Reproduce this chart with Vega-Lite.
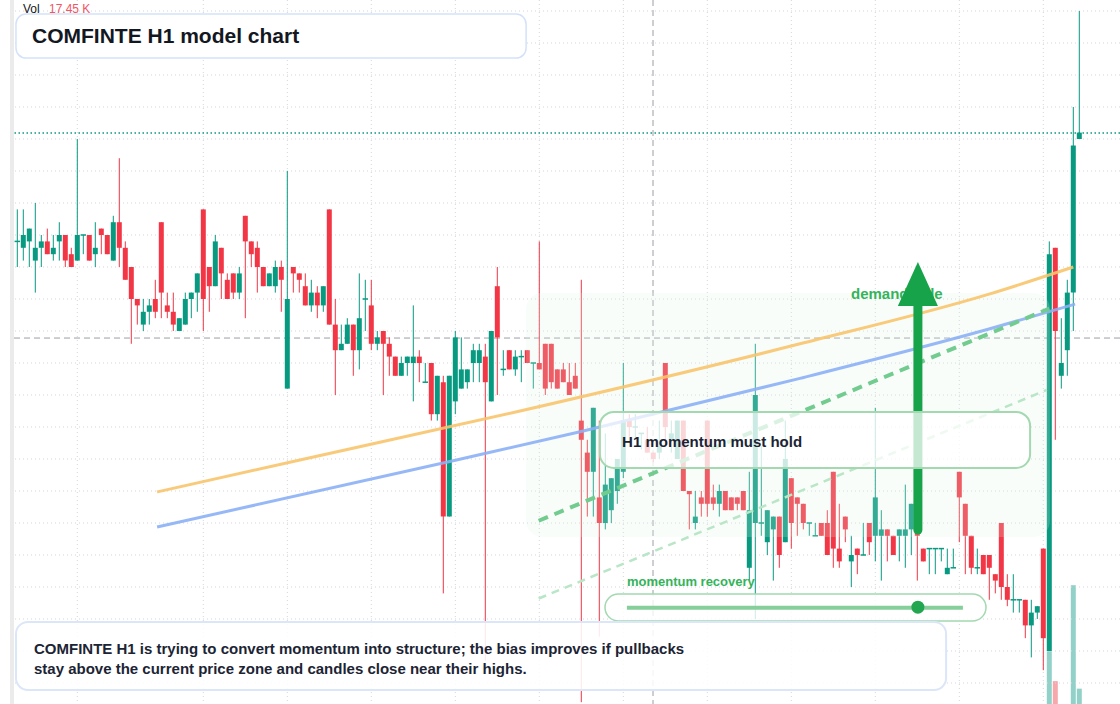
{
"$schema":"https://vega.github.io/schema/vega-lite/v6.json",
"width":1120,"height":704,"autosize":"none","padding":0,"background":"#ffffff",
"config":{"view":{"stroke":null},"font":"Liberation Sans","scale":{"continuousPadding":0}},
"datasets":{
"candles":[
{"i":0,"o":14.8,"h":15.8,"l":14.0,"c":14.8},{"i":1,"o":14.6,"h":15.8,"l":14.2,"c":15.0},{"i":2,"o":14.8,"h":15.2,"l":14.0,"c":15.2},{"i":3,"o":14.2,"h":16.0,"l":13.2,"c":14.6},{"i":4,"o":14.6,"h":15.0,"l":14.0,"c":14.8},{"i":5,"o":14.8,"h":15.2,"l":14.4,"c":14.4},{"i":6,"o":14.4,"h":15.0,"l":14.2,"c":14.6},{"i":7,"o":14.8,"h":15.4,"l":14.2,"c":15.0},{"i":8,"o":15.0,"h":15.0,"l":14.0,"c":14.2},{"i":9,"o":14.4,"h":14.6,"l":14.0,"c":14.0},
{"i":10,"o":14.2,"h":18.0,"l":14.2,"c":15.0},{"i":11,"o":15.0,"h":15.0,"l":14.4,"c":15.0},{"i":12,"o":15.0,"h":15.0,"l":14.2,"c":14.2},{"i":13,"o":14.4,"h":15.4,"l":14.0,"c":14.6},{"i":14,"o":15.2,"h":15.2,"l":14.4,"c":15.0},{"i":15,"o":15.0,"h":15.0,"l":14.4,"c":14.4},{"i":16,"o":14.2,"h":15.6,"l":14.2,"c":15.4},{"i":17,"o":15.4,"h":17.4,"l":14.0,"c":14.6},{"i":18,"o":14.6,"h":14.8,"l":13.6,"c":13.6},{"i":19,"o":14.0,"h":14.0,"l":11.6,"c":13.0},
{"i":20,"o":13.0,"h":13.0,"l":12.2,"c":12.8},{"i":21,"o":12.2,"h":13.0,"l":12.0,"c":12.6},{"i":22,"o":12.6,"h":13.0,"l":12.2,"c":12.8},{"i":23,"o":13.0,"h":13.6,"l":12.4,"c":12.6},{"i":24,"o":15.4,"h":15.4,"l":12.4,"c":13.2},{"i":25,"o":12.8,"h":13.2,"l":12.4,"c":12.6},{"i":26,"o":12.6,"h":13.2,"l":12.0,"c":12.2},{"i":27,"o":12.0,"h":12.4,"l":12.0,"c":12.4},{"i":28,"o":12.2,"h":13.2,"l":12.2,"c":13.0},{"i":29,"o":13.0,"h":13.2,"l":12.4,"c":13.2},
{"i":30,"o":13.2,"h":13.8,"l":12.6,"c":13.8},{"i":31,"o":15.8,"h":15.8,"l":12.0,"c":13.0},{"i":32,"o":14.0,"h":14.0,"l":12.6,"c":13.4},{"i":33,"o":13.4,"h":15.0,"l":13.4,"c":14.8},{"i":34,"o":14.6,"h":14.6,"l":13.0,"c":13.8},{"i":35,"o":13.6,"h":13.8,"l":13.0,"c":13.0},{"i":36,"o":13.8,"h":13.8,"l":13.0,"c":13.2},{"i":37,"o":13.2,"h":14.0,"l":13.0,"c":13.8},{"i":38,"o":15.6,"h":15.6,"l":12.4,"c":14.8},{"i":39,"o":14.8,"h":14.8,"l":14.0,"c":14.4},
{"i":40,"o":14.6,"h":14.8,"l":13.2,"c":14.0},{"i":41,"o":14.0,"h":14.0,"l":13.4,"c":13.4},{"i":42,"o":13.4,"h":13.8,"l":13.4,"c":13.8},{"i":43,"o":13.4,"h":14.2,"l":13.2,"c":14.0},{"i":44,"o":14.0,"h":14.2,"l":12.6,"c":13.6},{"i":45,"o":10.2,"h":17.0,"l":10.2,"c":13.0},{"i":46,"o":14.0,"h":14.0,"l":13.2,"c":13.8},{"i":47,"o":13.8,"h":13.8,"l":13.2,"c":13.6},{"i":48,"o":13.4,"h":13.8,"l":12.8,"c":12.8},{"i":49,"o":12.8,"h":13.6,"l":12.6,"c":13.2},
{"i":50,"o":13.2,"h":13.4,"l":12.4,"c":12.8},{"i":51,"o":12.8,"h":13.4,"l":12.6,"c":13.4},{"i":52,"o":15.8,"h":15.8,"l":12.2,"c":12.2},{"i":53,"o":12.2,"h":13.0,"l":10.0,"c":11.4},{"i":54,"o":11.4,"h":12.2,"l":11.4,"c":11.6},{"i":55,"o":11.6,"h":12.4,"l":11.6,"c":12.2},{"i":56,"o":12.2,"h":12.2,"l":10.6,"c":11.4},{"i":57,"o":11.4,"h":13.8,"l":10.8,"c":12.4},{"i":58,"o":13.0,"h":13.6,"l":12.0,"c":13.0},{"i":59,"o":12.8,"h":13.6,"l":11.4,"c":11.6},
{"i":60,"o":11.6,"h":12.0,"l":11.4,"c":11.8},{"i":61,"o":12.0,"h":12.0,"l":10.0,"c":11.6},{"i":62,"o":11.6,"h":11.8,"l":10.6,"c":11.2},{"i":63,"o":11.2,"h":11.2,"l":10.6,"c":10.6},{"i":64,"o":10.6,"h":11.2,"l":10.6,"c":11.0},{"i":65,"o":11.0,"h":11.2,"l":10.6,"c":11.2},{"i":66,"o":11.0,"h":12.8,"l":9.8,"c":11.2},{"i":67,"o":11.2,"h":11.4,"l":10.4,"c":11.0},{"i":68,"o":10.4,"h":11.0,"l":10.4,"c":10.4},{"i":69,"o":11.0,"h":11.0,"l":9.2,"c":9.4},
{"i":70,"o":9.4,"h":10.6,"l":9.2,"c":10.6},{"i":71,"o":10.4,"h":10.6,"l":3.8,"c":6.2},{"i":72,"o":6.2,"h":10.6,"l":6.2,"c":10.6},{"i":73,"o":9.8,"h":12.0,"l":9.4,"c":11.8},{"i":74,"o":10.2,"h":11.8,"l":10.2,"c":10.8},{"i":75,"o":10.4,"h":10.8,"l":10.2,"c":10.8},{"i":76,"o":11.0,"h":11.6,"l":10.4,"c":11.4},{"i":77,"o":11.0,"h":11.6,"l":10.4,"c":11.4},{"i":78,"o":11.2,"h":11.6,"l":1.7,"c":10.4},{"i":79,"o":9.8,"h":12.0,"l":9.8,"c":12.0},
{"i":80,"o":13.4,"h":14.0,"l":10.0,"c":11.8},{"i":81,"o":10.8,"h":11.4,"l":10.6,"c":10.8},{"i":82,"o":11.4,"h":11.4,"l":10.8,"c":10.8},{"i":83,"o":10.8,"h":11.4,"l":10.6,"c":11.2},{"i":84,"o":11.2,"h":11.4,"l":10.4,"c":11.2},{"i":85,"o":11.4,"h":11.4,"l":11.0,"c":11.0},{"i":86,"o":11.0,"h":11.0,"l":10.2,"c":11.0},{"i":87,"o":11.0,"h":14.8,"l":10.8,"c":10.8},{"i":88,"o":11.6,"h":11.6,"l":10.0,"c":10.2},{"i":89,"o":11.6,"h":11.6,"l":10.2,"c":10.4},
{"i":90,"o":10.8,"h":10.8,"l":10.2,"c":10.2},{"i":91,"o":10.8,"h":11.0,"l":10.4,"c":10.4},{"i":92,"o":10.4,"h":11.0,"l":10.0,"c":10.0},{"i":93,"o":10.6,"h":11.0,"l":10.2,"c":10.2},{"i":94,"o":9.2,"h":13.6,"l":0.4,"c":8.6},{"i":95,"o":8.2,"h":8.6,"l":6.2,"c":7.6},{"i":96,"o":7.6,"h":9.6,"l":6.2,"c":9.6},{"i":97,"o":6.8,"h":9.2,"l":2.45,"c":6.0},{"i":98,"o":6.0,"h":8.8,"l":5.8,"c":7.2},{"i":99,"o":6.4,"h":7.4,"l":6.0,"c":7.4},
{"i":100,"o":7.0,"h":8.0,"l":6.6,"c":8.0},{"i":101,"o":7.6,"h":11.0,"l":7.4,"c":9.2},{"i":102,"o":9.2,"h":9.4,"l":8.7,"c":9.0},{"i":103,"o":9.0,"h":9.4,"l":8.6,"c":9.0},{"i":104,"o":8.8,"h":8.8,"l":8.3,"c":8.8},{"i":105,"o":8.6,"h":9.0,"l":8.2,"c":8.2},{"i":106,"o":8.2,"h":8.2,"l":7.9,"c":8.0},{"i":107,"o":8.2,"h":9.2,"l":8.0,"c":8.4},{"i":108,"o":11.0,"h":11.0,"l":8.6,"c":9.0},{"i":109,"o":8.6,"h":9.2,"l":8.2,"c":8.8},
{"i":110,"o":8.0,"h":9.2,"l":8.0,"c":9.2},{"i":111,"o":9.2,"h":9.2,"l":7.0,"c":7.0},{"i":112,"o":7.0,"h":7.0,"l":5.8,"c":6.9},{"i":113,"o":6.0,"h":7.0,"l":5.8,"c":6.2},{"i":114,"o":6.8,"h":7.0,"l":6.2,"c":6.6},{"i":115,"o":9.2,"h":9.2,"l":6.2,"c":6.6},{"i":116,"o":6.8,"h":7.2,"l":6.4,"c":6.6},{"i":117,"o":6.6,"h":7.2,"l":6.2,"c":7.0},{"i":118,"o":7.0,"h":7.0,"l":6.4,"c":6.4},{"i":119,"o":6.8,"h":6.8,"l":6.4,"c":6.4},
{"i":120,"o":6.8,"h":6.8,"l":6.4,"c":6.6},{"i":121,"o":7.0,"h":7.0,"l":6.4,"c":6.4},{"i":122,"o":4.6,"h":7.6,"l":4.2,"c":6.4},{"i":123,"o":6.0,"h":11.6,"l":3.0,"c":10.0},{"i":124,"o":6.0,"h":8.4,"l":5.6,"c":6.0},{"i":125,"o":5.4,"h":6.4,"l":5.0,"c":6.4},{"i":126,"o":5.8,"h":6.2,"l":4.2,"c":6.2},{"i":127,"o":6.2,"h":6.2,"l":4.6,"c":5.0},{"i":128,"o":5.4,"h":9.2,"l":5.4,"c":8.0},{"i":129,"o":7.4,"h":7.4,"l":5.2,"c":6.0},
{"i":130,"o":6.8,"h":6.8,"l":5.6,"c":6.6},{"i":131,"o":6.6,"h":6.6,"l":5.8,"c":6.0},{"i":132,"o":6.0,"h":6.0,"l":5.6,"c":6.0},{"i":133,"o":5.6,"h":6.0,"l":5.6,"c":5.6},{"i":134,"o":6.0,"h":6.0,"l":5.6,"c":5.6},{"i":135,"o":6.0,"h":6.4,"l":5.0,"c":5.0},{"i":136,"o":7.6,"h":7.6,"l":4.6,"c":5.2},{"i":137,"o":5.2,"h":6.6,"l":4.6,"c":4.8},{"i":138,"o":6.2,"h":6.2,"l":5.4,"c":5.8},{"i":139,"o":4.8,"h":5.6,"l":4.0,"c":5.0},
{"i":140,"o":5.2,"h":5.2,"l":4.4,"c":5.0},{"i":141,"o":5.0,"h":6.0,"l":5.0,"c":5.0},{"i":142,"o":6.0,"h":6.0,"l":5.0,"c":5.4},{"i":143,"o":5.6,"h":9.6,"l":4.8,"c":6.8},{"i":144,"o":5.6,"h":6.4,"l":4.2,"c":5.8},{"i":145,"o":5.8,"h":5.8,"l":4.8,"c":5.6},{"i":146,"o":5.6,"h":5.6,"l":5.0,"c":5.0},{"i":147,"o":5.6,"h":5.8,"l":4.8,"c":5.8},{"i":148,"o":5.6,"h":7.2,"l":4.6,"c":5.8},{"i":149,"o":5.8,"h":6.6,"l":5.0,"c":6.6},
{"i":150,"o":6.0,"h":6.0,"l":4.2,"c":5.6},{"i":151,"o":5.2,"h":5.2,"l":4.8,"c":4.8},{"i":152,"o":5.2,"h":5.2,"l":4.4,"c":5.2},{"i":153,"o":5.2,"h":5.2,"l":4.4,"c":5.2},{"i":154,"o":5.2,"h":5.2,"l":4.8,"c":5.2},{"i":155,"o":4.4,"h":5.2,"l":4.4,"c":4.6},{"i":156,"o":4.6,"h":5.2,"l":4.6,"c":4.6},{"i":157,"o":7.6,"h":7.6,"l":5.4,"c":6.8},{"i":158,"o":6.6,"h":6.6,"l":4.4,"c":5.6},{"i":159,"o":5.6,"h":5.6,"l":4.4,"c":4.6},
{"i":160,"o":4.6,"h":5.2,"l":4.4,"c":4.6},{"i":161,"o":5.0,"h":5.0,"l":4.4,"c":4.4},{"i":162,"o":5.0,"h":5.0,"l":3.6,"c":4.6},{"i":163,"o":4.4,"h":4.4,"l":3.8,"c":4.2},{"i":164,"o":6.0,"h":6.0,"l":3.6,"c":4.0},{"i":165,"o":4.0,"h":4.4,"l":3.4,"c":3.6},{"i":166,"o":3.6,"h":4.4,"l":3.2,"c":3.6},{"i":167,"o":3.6,"h":3.6,"l":3.2,"c":3.6},{"i":168,"o":3.6,"h":3.6,"l":2.4,"c":2.8},{"i":169,"o":2.8,"h":3.6,"l":1.8,"c":3.2},
{"i":170,"o":3.2,"h":3.4,"l":3.0,"c":3.4},{"i":171,"o":5.2,"h":5.2,"l":1.4,"c":2.4},{"i":172,"o":2.0,"h":14.8,"l":2.0,"c":14.4},{"i":173,"o":14.6,"h":14.6,"l":8.6,"c":12.0},{"i":174,"o":10.6,"h":12.4,"l":10.2,"c":11.0},{"i":175,"o":11.4,"h":13.6,"l":10.6,"c":13.2},{"i":176,"o":13.2,"h":19.0,"l":12.0,"c":17.8},{"i":177,"o":18.0,"h":22.0,"l":18.0,"c":18.2}
],
"vol":[{"i":172,"v":60,"d":"up"},{"i":173,"v":26,"d":"down"},{"i":176,"v":135,"d":"up"},{"i":177,"v":17.45,"d":"up"}],
"gridV":[{"i":10},{"i":31},{"i":45},{"i":59},{"i":73},{"i":87},{"i":101},{"i":115},{"i":129},{"i":143},{"i":157},{"i":171}],
"gridH":[{"p":1},{"p":2},{"p":3},{"p":4},{"p":5},{"p":6},{"p":7},{"p":8},{"p":9},{"p":10},{"p":11},{"p":12},{"p":13},{"p":14},{"p":15},{"p":16},{"p":17},{"p":18},{"p":19},{"p":20},{"p":21},{"p":22}],
"orange":[{"i":23.3,"p":6.97},{"i":47.1,"p":7.97},{"i":83.8,"p":9.5},{"i":130.45,"p":11.6},{"i":162.1,"p":13.16},{"i":176,"p":14.0}],
"blue":[{"i":23.3,"p":5.875},{"i":73.2,"p":7.97},{"i":93.8,"p":8.85},{"i":130.45,"p":10.52},{"i":162.1,"p":12.07},{"i":176.3,"p":12.84}],
"dashA":[{"i":86.9,"p":6.07},{"i":172,"p":12.7}],
"dashB":[{"i":86.9,"p":3.64},{"i":171.6,"p":10.16}],
"strip":[{"i1":-2.8833,"i2":-1.2217,"col":"w"},{"i1":-1.2217,"i2":-0.55,"col":"g"}],
"boxes":[
{"name":"title","i1":-0.22,"i2":84.8,"p1":21.906,"p2":20.53},
{"name":"h1","i1":97.1,"i2":168.8,"p1":9.47,"p2":7.72},
{"name":"slider","i1":97.95,"i2":161.45,"p1":3.78,"p2":2.94},
{"name":"bottom","i1":-0.22,"i2":154.8,"p1":2.91,"p2":0.78},
{"name":"zone","i1":84.8,"i2":172.1,"p1":13.19,"p2":5.56}
]
},
"layer":[
{"data":{"name":"vol"},"mark":{"type":"bar","size":5},
 "encoding":{
  "x":{"field":"i","type":"quantitative","scale":{"domain":[-2.8833,183.7833],"nice":false,"zero":false,"padding":0},"axis":null},
  "y":{"field":"v","type":"quantitative","scale":{"domain":[0,800],"nice":false,"padding":0},"axis":null},
  "color":{"condition":{"test":"datum.d=='up'","value":"#92d1c7"},"value":"#f7a8ad"}}},
{"layer":[
 {"data":{"name":"gridH"},"mark":{"type":"rule","color":"#d3d6db","strokeDash":[1,3],"strokeWidth":1},
  "encoding":{"y":{"field":"p","type":"quantitative","scale":{"domain":[0.34375,22.34375],"nice":false,"zero":false,"padding":0},"axis":null}}},
 {"data":{"name":"gridV"},"mark":{"type":"rule","color":"#d3d6db","strokeDash":[1,3],"strokeWidth":1},
  "encoding":{"x":{"field":"i","type":"quantitative","scale":{"domain":[-2.8833,183.7833],"nice":false,"zero":false,"padding":0},"axis":null}}},
 {"data":{"values":[{"p":11.78}]},"mark":{"type":"rule","color":"#9a9ea6","strokeDash":[6,4],"strokeWidth":1},
  "encoding":{"y":{"field":"p","type":"quantitative","scale":{"domain":[0.34375,22.34375],"nice":false,"zero":false,"padding":0},"axis":null}}},
 {"data":{"values":[{"i":105.95}]},"mark":{"type":"rule","color":"#9a9ea6","strokeDash":[6,4],"strokeWidth":1},
  "encoding":{"x":{"field":"i","type":"quantitative","scale":{"domain":[-2.8833,183.7833],"nice":false,"zero":false,"padding":0},"axis":null}}},
 {"data":{"values":[{"p":18.19}]},"mark":{"type":"rule","color":"#089981","strokeDash":[1.5,2.5],"strokeWidth":1.5},
  "encoding":{"y":{"field":"p","type":"quantitative","scale":{"domain":[0.34375,22.34375],"nice":false,"zero":false,"padding":0},"axis":null}}},
 {"data":{"name":"strip"},"mark":{"type":"rect"},
  "encoding":{"x":{"field":"i1","type":"quantitative","scale":{"domain":[-2.8833,183.7833],"nice":false,"zero":false,"padding":0},"axis":null},"x2":{"field":"i2"},
   "y":{"datum":0.34375,"type":"quantitative","scale":{"domain":[0.34375,22.34375],"nice":false,"zero":false,"padding":0},"axis":null},"y2":{"datum":22.34375},
   "color":{"condition":{"test":"datum.col=='w'","value":"#ffffff"},"value":"#ebebeb"}}},
 {"data":{"name":"candles"},"mark":{"type":"rule","strokeWidth":1},
  "encoding":{"x":{"field":"i","type":"quantitative","scale":{"domain":[-2.8833,183.7833],"nice":false,"zero":false,"padding":0},"axis":null},
   "y":{"field":"l","type":"quantitative","scale":{"domain":[0.34375,22.34375],"nice":false,"zero":false,"padding":0},"axis":null},"y2":{"field":"h"},
   "color":{"condition":{"test":"datum.c>=datum.o","value":"#089981"},"value":"#f23645"}}},
 {"data":{"name":"candles"},"mark":{"type":"bar","size":5},
  "encoding":{"x":{"field":"i","type":"quantitative","scale":{"domain":[-2.8833,183.7833],"nice":false,"zero":false,"padding":0},"axis":null},
   "y":{"field":"o","type":"quantitative","scale":{"domain":[0.34375,22.34375],"nice":false,"zero":false,"padding":0},"axis":null},"y2":{"field":"c"},
   "color":{"condition":{"test":"datum.c>=datum.o","value":"#089981"},"value":"#f23645"}}},
 {"data":{"name":"candles"},"transform":[{"filter":"datum.o==datum.c"}],
  "mark":{"type":"point","shape":"M-1,0L1,0","size":30,"filled":false,"strokeWidth":1.5,"opacity":1,"color":"#089981"},
  "encoding":{"x":{"field":"i","type":"quantitative","scale":{"domain":[-2.8833,183.7833],"nice":false,"zero":false,"padding":0},"axis":null},
   "y":{"field":"o","type":"quantitative","scale":{"domain":[0.34375,22.34375],"nice":false,"zero":false,"padding":0},"axis":null}}},
 {"data":{"name":"boxes"},"transform":[{"filter":"datum.name=='zone'"}],
  "mark":{"type":"rect","color":"#dff3e4","opacity":0.2,"cornerRadius":16},
  "encoding":{"x":{"field":"i1","type":"quantitative","scale":{"domain":[-2.8833,183.7833],"nice":false,"zero":false,"padding":0},"axis":null},"x2":{"field":"i2"},
   "y":{"field":"p1","type":"quantitative","scale":{"domain":[0.34375,22.34375],"nice":false,"zero":false,"padding":0},"axis":null},"y2":{"field":"p2"}}},
 {"data":{"name":"orange"},"mark":{"type":"line","color":"#f7c46c","strokeWidth":3,"opacity":0.9,"interpolate":"monotone"},
  "encoding":{"x":{"field":"i","type":"quantitative","scale":{"domain":[-2.8833,183.7833],"nice":false,"zero":false,"padding":0},"axis":null},
   "y":{"field":"p","type":"quantitative","scale":{"domain":[0.34375,22.34375],"nice":false,"zero":false,"padding":0},"axis":null}}},
 {"data":{"name":"blue"},"mark":{"type":"line","color":"#8cb0f5","strokeWidth":3,"opacity":0.9,"interpolate":"monotone"},
  "encoding":{"x":{"field":"i","type":"quantitative","scale":{"domain":[-2.8833,183.7833],"nice":false,"zero":false,"padding":0},"axis":null},
   "y":{"field":"p","type":"quantitative","scale":{"domain":[0.34375,22.34375],"nice":false,"zero":false,"padding":0},"axis":null}}},
 {"data":{"name":"dashA"},"mark":{"type":"line","color":"#72cb8f","strokeWidth":4,"strokeDash":[10,7]},
  "encoding":{"x":{"field":"i","type":"quantitative","scale":{"domain":[-2.8833,183.7833],"nice":false,"zero":false,"padding":0},"axis":null},
   "y":{"field":"p","type":"quantitative","scale":{"domain":[0.34375,22.34375],"nice":false,"zero":false,"padding":0},"axis":null}}},
 {"data":{"name":"dashB"},"mark":{"type":"line","color":"#b9e6c6","strokeWidth":2.5,"strokeDash":[8,6]},
  "encoding":{"x":{"field":"i","type":"quantitative","scale":{"domain":[-2.8833,183.7833],"nice":false,"zero":false,"padding":0},"axis":null},
   "y":{"field":"p","type":"quantitative","scale":{"domain":[0.34375,22.34375],"nice":false,"zero":false,"padding":0},"axis":null}}},
 {"data":{"values":[{"i":138.95,"p":13.0,"t":"demand side"}]},
  "mark":{"type":"text","align":"left","baseline":"alphabetic","fontSize":15,"fontWeight":"bold","color":"#34b35a","font":"Liberation Sans"},
  "encoding":{"x":{"field":"i","type":"quantitative","scale":{"domain":[-2.8833,183.7833],"nice":false,"zero":false,"padding":0},"axis":null},
   "y":{"field":"p","type":"quantitative","scale":{"domain":[0.34375,22.34375],"nice":false,"zero":false,"padding":0},"axis":null},"text":{"field":"t"}}},
 {"data":{"values":[{"i":150.1,"p1":5.78,"p2":12.9}]},"mark":{"type":"rule","color":"#16a34a","strokeWidth":9,"strokeCap":"round"},
  "encoding":{"x":{"field":"i","type":"quantitative","scale":{"domain":[-2.8833,183.7833],"nice":false,"zero":false,"padding":0},"axis":null},
   "y":{"field":"p1","type":"quantitative","scale":{"domain":[0.34375,22.34375],"nice":false,"zero":false,"padding":0},"axis":null},"y2":{"field":"p2"}}},
 {"data":{"values":[{"i":150.1,"p":13.47}]},"mark":{"type":"point","shape":"M-0.91,1L0,-1L0.91,1Z","size":1936,"filled":true,"opacity":1,"color":"#16a34a"},
  "encoding":{"x":{"field":"i","type":"quantitative","scale":{"domain":[-2.8833,183.7833],"nice":false,"zero":false,"padding":0},"axis":null},
   "y":{"field":"p","type":"quantitative","scale":{"domain":[0.34375,22.34375],"nice":false,"zero":false,"padding":0},"axis":null}}},
 {"data":{"name":"boxes"},"transform":[{"filter":"datum.name=='h1'"}],
  "mark":{"type":"rect","fill":"#ffffff","fillOpacity":0.75,"stroke":"#a3d8b0","strokeWidth":2,"cornerRadius":14},
  "encoding":{"x":{"field":"i1","type":"quantitative","scale":{"domain":[-2.8833,183.7833],"nice":false,"zero":false,"padding":0},"axis":null},"x2":{"field":"i2"},
   "y":{"field":"p1","type":"quantitative","scale":{"domain":[0.34375,22.34375],"nice":false,"zero":false,"padding":0},"axis":null},"y2":{"field":"p2"}}},
 {"data":{"values":[{"i":100.8,"p":8.37,"t":"H1 momentum must hold"}]},
  "mark":{"type":"text","align":"left","baseline":"alphabetic","fontSize":15,"fontWeight":"bold","color":"#1c2434","font":"Liberation Sans"},
  "encoding":{"x":{"field":"i","type":"quantitative","scale":{"domain":[-2.8833,183.7833],"nice":false,"zero":false,"padding":0},"axis":null},
   "y":{"field":"p","type":"quantitative","scale":{"domain":[0.34375,22.34375],"nice":false,"zero":false,"padding":0},"axis":null},"text":{"field":"t"}}},
 {"data":{"values":[{"i":101.6,"p":4.03,"t":"momentum recovery"}]},
  "mark":{"type":"text","align":"left","baseline":"alphabetic","fontSize":13,"fontWeight":"bold","color":"#34b35a","font":"Liberation Sans"},
  "encoding":{"x":{"field":"i","type":"quantitative","scale":{"domain":[-2.8833,183.7833],"nice":false,"zero":false,"padding":0},"axis":null},
   "y":{"field":"p","type":"quantitative","scale":{"domain":[0.34375,22.34375],"nice":false,"zero":false,"padding":0},"axis":null},"text":{"field":"t"}}},
 {"data":{"name":"boxes"},"transform":[{"filter":"datum.name=='slider'"}],
  "mark":{"type":"rect","fill":"#ffffff","fillOpacity":0.8,"stroke":"#a3d8b0","strokeWidth":1.5,"cornerRadius":14},
  "encoding":{"x":{"field":"i1","type":"quantitative","scale":{"domain":[-2.8833,183.7833],"nice":false,"zero":false,"padding":0},"axis":null},"x2":{"field":"i2"},
   "y":{"field":"p1","type":"quantitative","scale":{"domain":[0.34375,22.34375],"nice":false,"zero":false,"padding":0},"axis":null},"y2":{"field":"p2"}}},
 {"data":{"values":[{"i1":101.6,"i2":157.6,"p":3.35}]},"mark":{"type":"rule","color":"#86cf9b","strokeWidth":4},
  "encoding":{"x":{"field":"i1","type":"quantitative","scale":{"domain":[-2.8833,183.7833],"nice":false,"zero":false,"padding":0},"axis":null},"x2":{"field":"i2"},
   "y":{"field":"p","type":"quantitative","scale":{"domain":[0.34375,22.34375],"nice":false,"zero":false,"padding":0},"axis":null}}},
 {"data":{"values":[{"i":150.1,"p":3.37}]},"mark":{"type":"point","shape":"circle","size":170,"filled":true,"opacity":1,"color":"#22a650"},
  "encoding":{"x":{"field":"i","type":"quantitative","scale":{"domain":[-2.8833,183.7833],"nice":false,"zero":false,"padding":0},"axis":null},
   "y":{"field":"p","type":"quantitative","scale":{"domain":[0.34375,22.34375],"nice":false,"zero":false,"padding":0},"axis":null}}},
 {"data":{"name":"boxes"},"transform":[{"filter":"datum.name=='bottom'"}],
  "mark":{"type":"rect","fill":"#ffffff","fillOpacity":0.88,"stroke":"#dbe6f8","strokeWidth":2,"cornerRadius":12},
  "encoding":{"x":{"field":"i1","type":"quantitative","scale":{"domain":[-2.8833,183.7833],"nice":false,"zero":false,"padding":0},"axis":null},"x2":{"field":"i2"},
   "y":{"field":"p1","type":"quantitative","scale":{"domain":[0.34375,22.34375],"nice":false,"zero":false,"padding":0},"axis":null},"y2":{"field":"p2"}}},
 {"data":{"values":[{"i":2.78,"p":1.906,"t":"COMFINTE H1 is trying to convert momentum into structure; the bias improves if pullbacks"},{"i":2.78,"p":1.281,"t":"stay above the current price zone and candles close near their highs."}]},
  "mark":{"type":"text","align":"left","baseline":"alphabetic","fontSize":15,"fontWeight":"bold","color":"#1c2434","font":"Liberation Sans"},
  "encoding":{"x":{"field":"i","type":"quantitative","scale":{"domain":[-2.8833,183.7833],"nice":false,"zero":false,"padding":0},"axis":null},
   "y":{"field":"p","type":"quantitative","scale":{"domain":[0.34375,22.34375],"nice":false,"zero":false,"padding":0},"axis":null},"text":{"field":"t"}}},
 {"data":{"name":"boxes"},"transform":[{"filter":"datum.name=='title'"}],
  "mark":{"type":"rect","fill":"#ffffff","fillOpacity":0.96,"stroke":"#d3e2f9","strokeWidth":1.5,"cornerRadius":10},
  "encoding":{"x":{"field":"i1","type":"quantitative","scale":{"domain":[-2.8833,183.7833],"nice":false,"zero":false,"padding":0},"axis":null},"x2":{"field":"i2"},
   "y":{"field":"p1","type":"quantitative","scale":{"domain":[0.34375,22.34375],"nice":false,"zero":false,"padding":0},"axis":null},"y2":{"field":"p2"}}},
 {"data":{"values":[{"i":2.45,"p":20.99,"t":"COMFINTE H1 model chart"}]},
  "mark":{"type":"text","align":"left","baseline":"alphabetic","fontSize":21,"fontWeight":"bold","color":"#131722","font":"Liberation Sans"},
  "encoding":{"x":{"field":"i","type":"quantitative","scale":{"domain":[-2.8833,183.7833],"nice":false,"zero":false,"padding":0},"axis":null},
   "y":{"field":"p","type":"quantitative","scale":{"domain":[0.34375,22.34375],"nice":false,"zero":false,"padding":0},"axis":null},"text":{"field":"t"}}},
 {"data":{"values":[{"i":0.95,"p":21.95,"t":"Vol","k":"a"},{"i":5.28,"p":21.95,"t":"17.45 K","k":"b"}]},
  "mark":{"type":"text","align":"left","baseline":"alphabetic","fontSize":12,"font":"Liberation Sans"},
  "encoding":{"x":{"field":"i","type":"quantitative","scale":{"domain":[-2.8833,183.7833],"nice":false,"zero":false,"padding":0},"axis":null},
   "y":{"field":"p","type":"quantitative","scale":{"domain":[0.34375,22.34375],"nice":false,"zero":false,"padding":0},"axis":null},"text":{"field":"t"},
   "color":{"condition":{"test":"datum.k=='a'","value":"#131722"},"value":"#f25563"}}}
]}
],
"resolve":{"scale":{"y":"independent"}}
}
